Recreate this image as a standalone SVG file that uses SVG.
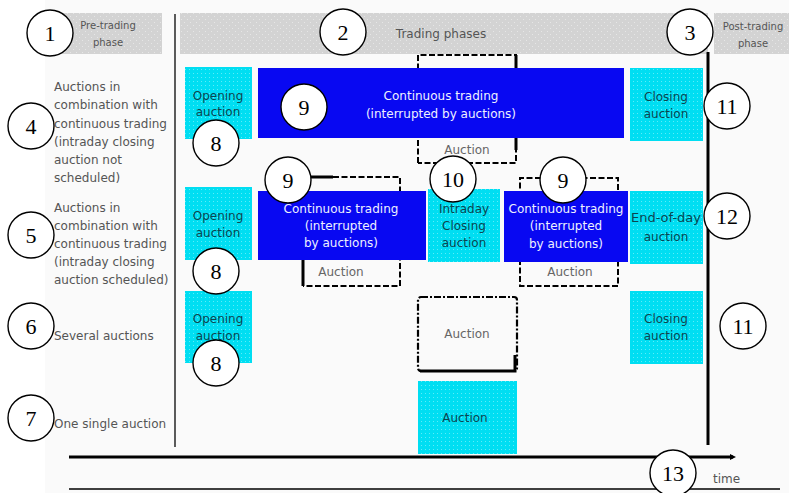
<svg xmlns="http://www.w3.org/2000/svg" width="789" height="493" viewBox="0 0 789 493">
  <defs>
    <pattern id="cyanFill" width="4" height="4" patternUnits="userSpaceOnUse">
      <rect width="4" height="4" fill="#00def2"/>
      <rect x="1" y="1" width="1" height="1" fill="#5eecf8"/>
    </pattern>
    <pattern id="grayFill" width="6" height="6" patternUnits="userSpaceOnUse">
      <rect width="6" height="6" fill="#d3d3d3"/>
      <rect x="1" y="1" width="1" height="1" fill="#e6e6e6"/>
      <rect x="4" y="4" width="1" height="1" fill="#e6e6e6"/>
    </pattern>
    <marker id="dotHead" markerWidth="8" markerHeight="8" refX="4" refY="4" orient="auto" markerUnits="userSpaceOnUse">
      <path d="M1,1 L7,4 L1,7 Z" fill="#000"/>
    </marker>
  </defs>
  <style>
    text { font-family: "DejaVu Sans", "Liberation Sans", sans-serif; font-size: 12px; }
    .hdr { fill: url(#grayFill); }
    .hdrText { fill: #555; text-anchor: middle; }
    .small { font-size: 10px; }
    .cyan { fill: url(#cyanFill); }
    .cyanText { fill: #0b4550; text-anchor: middle; }
    .blue { fill: #0808f2; }
    .blueText { fill: #eef0ff; text-anchor: middle; }
    .label { fill: #555; }
    .dash { fill: none; stroke: #000; stroke-width: 2; stroke-dasharray: 6 2.5; }
    .bold { fill: none; stroke: #000; stroke-width: 3; }
    .auxText { fill: #666; text-anchor: middle; }
    .num circle { fill: #fff; stroke: #000; stroke-width: 1.4; }
    .num text { font-family: "Liberation Serif", "Times New Roman", serif; font-size: 22px; fill: #000; text-anchor: middle; }
  </style>

  <rect width="789" height="493" fill="#fff"/>
  <rect x="45" y="0" width="744" height="493" fill="#fafafa"/>

  <!-- phase headers -->
  <g id="pre-trading">
    <rect class="hdr" x="60" y="13" width="102" height="41"/>
    <text class="hdrText small" x="108" y="29">Pre-trading</text>
    <text class="hdrText small" x="108" y="46">phase</text>
  </g>
  <g id="trading-phases">
    <rect class="hdr" x="180" y="13" width="528" height="41"/>
    <text class="hdrText" x="441" y="38">Trading phases</text>
  </g>
  <g id="post-trading">
    <rect class="hdr" x="714" y="13" width="75" height="41"/>
    <text class="hdrText small" x="753" y="30">Post-trading</text>
    <text class="hdrText small" x="753" y="47">phase</text>
  </g>

  <!-- row labels -->
  <g id="label-row1">
    <text class="label" x="54" y="91">Auctions in</text>
    <text class="label" x="54" y="109">combination with</text>
    <text class="label" x="54" y="128">continuous trading</text>
    <text class="label" x="54" y="146">(intraday closing</text>
    <text class="label" x="54" y="164">auction not</text>
    <text class="label" x="54" y="182">scheduled)</text>
  </g>
  <g id="label-row2">
    <text class="label" x="54" y="212">Auctions in</text>
    <text class="label" x="54" y="230">combination with</text>
    <text class="label" x="54" y="248">continuous trading</text>
    <text class="label" x="54" y="266">(intraday closing</text>
    <text class="label" x="54" y="284">auction scheduled)</text>
  </g>
  <g id="label-row3">
    <text class="label" x="54" y="340">Several auctions</text>
  </g>
  <g id="label-row4">
    <text class="label" x="54" y="428">One single auction</text>
  </g>

  <!-- dashed auction frames behind continuous trading -->
  <g id="auction-frame-row1">
    <path class="dash" d="M418,163 V55 H517"/>
    <path class="bold" d="M516,55 V70"/>
    <path class="dash" d="M516,138 V163 H418"/>
    <path class="bold" d="M516,138 V150"/>
    <text class="auxText" x="467" y="154">Auction</text>
  </g>
  <g id="auction-frame-row2a">
    <path class="bold" d="M311,177 H333"/>
    <path class="dash" d="M333,177 H400 V286 H303"/>
    <path class="bold" d="M303,258 V286"/>
    <text class="auxText" x="341" y="276">Auction</text>
  </g>
  <g id="auction-frame-row2b">
    <path class="dash" d="M541,178 H520 V286 H618 V178 H586"/>
    <text class="auxText" x="570" y="276">Auction</text>
  </g>

  <!-- row 1 -->
  <g id="opening-auction-1">
    <rect class="cyan" x="185" y="67" width="67" height="72"/>
    <text class="cyanText" x="218" y="100">Opening</text>
    <text class="cyanText" x="218" y="116">auction</text>
  </g>
  <g id="continuous-trading-1">
    <rect class="blue" x="258" y="68" width="366" height="70"/>
    <text class="blueText" x="441" y="100">Continuous trading</text>
    <text class="blueText" x="441" y="118">(interrupted by auctions)</text>
  </g>
  <g id="closing-auction-1">
    <rect class="cyan" x="630" y="68" width="73" height="73"/>
    <text class="cyanText" x="666" y="101">Closing</text>
    <text class="cyanText" x="666" y="118">auction</text>
  </g>

  <!-- row 2 -->
  <g id="opening-auction-2">
    <rect class="cyan" x="185" y="187" width="67" height="73"/>
    <text class="cyanText" x="218" y="220">Opening</text>
    <text class="cyanText" x="218" y="237">auction</text>
  </g>
  <g id="continuous-trading-2a">
    <rect class="blue" x="258" y="191" width="168" height="69"/>
    <text class="blueText" x="341" y="213">Continuous trading</text>
    <text class="blueText" x="341" y="230">(interrupted</text>
    <text class="blueText" x="341" y="247">by auctions)</text>
  </g>
  <g id="intraday-closing">
    <rect class="cyan" x="428" y="189" width="72" height="73"/>
    <text class="cyanText" x="464" y="213">Intraday</text>
    <text class="cyanText" x="464" y="230">Closing</text>
    <text class="cyanText" x="464" y="247">auction</text>
  </g>
  <g id="continuous-trading-2b">
    <rect class="blue" x="504" y="191" width="124" height="71"/>
    <text class="blueText" x="566" y="213" textLength="115" lengthAdjust="spacingAndGlyphs">Continuous trading</text>
    <text class="blueText" x="566" y="230">(interrupted</text>
    <text class="blueText" x="566" y="248">by auctions)</text>
  </g>
  <g id="end-of-day-auction">
    <rect class="cyan" x="630" y="191" width="73" height="73"/>
    <text class="cyanText" x="666" y="222" textLength="70" lengthAdjust="spacingAndGlyphs">End-of-day</text>
    <text class="cyanText" x="666" y="241">auction</text>
  </g>

  <!-- row 3 -->
  <g id="opening-auction-3">
    <rect class="cyan" x="185" y="291" width="67" height="72"/>
    <text class="cyanText" x="218" y="323">Opening</text>
    <text class="cyanText" x="218" y="340">auction</text>
  </g>
  <g id="auction-3">
    <rect x="418" y="297" width="99" height="74" rx="3" fill="none" stroke="#000" stroke-width="2.2" stroke-dasharray="7 2 2 2"/>
    <path class="bold" d="M420,371 H515 V355"/>
    <text class="auxText" x="467" y="338">Auction</text>
  </g>
  <g id="closing-auction-3">
    <rect class="cyan" x="630" y="291" width="73" height="73"/>
    <text class="cyanText" x="666" y="323">Closing</text>
    <text class="cyanText" x="666" y="340">auction</text>
  </g>

  <!-- row 4 -->
  <g id="single-auction">
    <rect class="cyan" x="418" y="381" width="99" height="73"/>
    <text class="cyanText" x="465" y="422">Auction</text>
  </g>

  <!-- separators and time axis -->
  <g id="connectors">
    <line x1="175" y1="14" x2="175" y2="447" stroke="#333" stroke-width="1.6"/>
    <line x1="708" y1="52" x2="708" y2="445" stroke="#000" stroke-width="3"/>
    <line x1="69" y1="457" x2="733" y2="457" stroke="#000" stroke-width="3.2" marker-end="url(#dotHead)"/>
    <line x1="69" y1="489" x2="780" y2="489" stroke="#000" stroke-width="1.4"/>
  </g>
  <g id="time-label">
    <text class="label" x="713" y="483" font-size="11">time</text>
  </g>

  <!-- numbered markers -->
  <g class="num">
    <g id="n1"><circle cx="50" cy="33" r="23"/><text x="50" y="41">1</text></g>
    <g id="n2"><circle cx="343" cy="32" r="23"/><text x="343" y="40">2</text></g>
    <g id="n3"><circle cx="690" cy="32" r="23"/><text x="690" y="40">3</text></g>
    <g id="n4"><circle cx="31" cy="126" r="23"/><text x="31" y="134">4</text></g>
    <g id="n5"><circle cx="31" cy="235" r="23"/><text x="31" y="243">5</text></g>
    <g id="n6"><circle cx="31" cy="326" r="23"/><text x="31" y="334">6</text></g>
    <g id="n7"><circle cx="31" cy="418" r="23"/><text x="31" y="426">7</text></g>
    <g id="n8a"><circle cx="216" cy="143" r="23"/><text x="216" y="151">8</text></g>
    <g id="n8b"><circle cx="216" cy="271" r="23"/><text x="216" y="279">8</text></g>
    <g id="n8c"><circle cx="216" cy="363" r="23"/><text x="216" y="371">8</text></g>
    <g id="n9a"><circle cx="304" cy="107" r="23"/><text x="304" y="115">9</text></g>
    <g id="n9b"><circle cx="288" cy="180" r="23"/><text x="288" y="188">9</text></g>
    <g id="n9c"><circle cx="563" cy="180" r="23"/><text x="563" y="188">9</text></g>
    <g id="n10"><circle cx="453" cy="179" r="23"/><text x="453" y="187">10</text></g>
    <g id="n11a"><circle cx="727" cy="106" r="23"/><text x="727" y="114">11</text></g>
    <g id="n11b"><circle cx="743" cy="326" r="23"/><text x="743" y="334">11</text></g>
    <g id="n12"><circle cx="727" cy="216" r="23"/><text x="727" y="224">12</text></g>
    <g id="n13"><circle cx="673" cy="473" r="23"/><text x="673" y="481">13</text></g>
  </g>
</svg>
